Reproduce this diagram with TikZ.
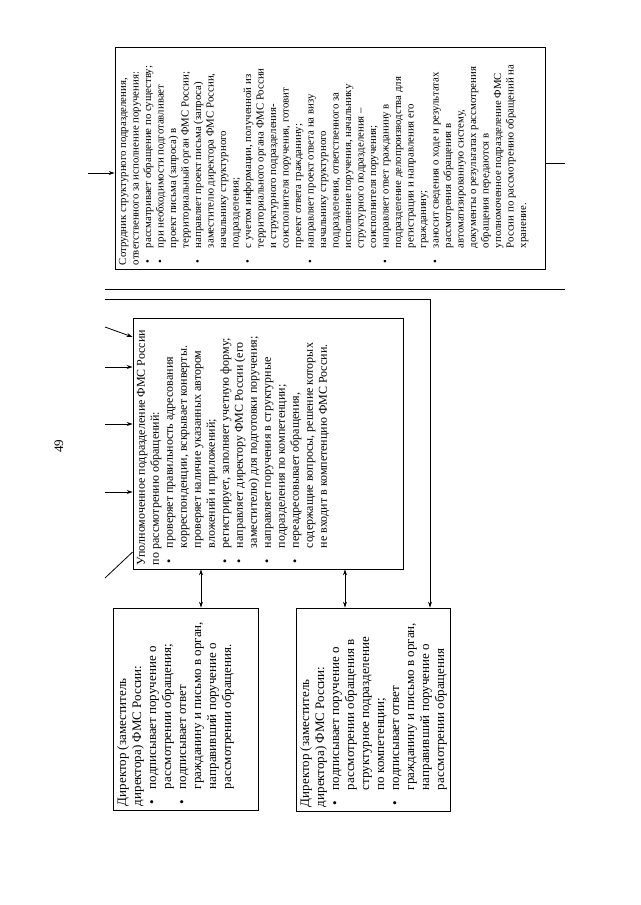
\documentclass[tikz,border=0pt]{standalone}
\usepackage{fontspec}
\setmainfont{Liberation Serif}
\usepackage{graphicx}
\usetikzlibrary{arrows.meta}

\newcommand{\bl}{\makebox[17pt][l]{\hspace{2pt}\textbullet}}
\newcommand{\cn}{\hspace*{17pt}}
\newcommand{\vtext}[4]{\rotatebox{90}{\parbox[c][#2][t]{#1}{#3\raggedright #4}}}

\tikzset{
  box/.style={draw, line width=0.8pt, inner sep=4pt},
}

\begin{document}
\begin{tikzpicture}[x=1pt, y=1pt, >={Stealth[length=6pt,width=4pt]}, line width=0.8pt]
\useasboundingbox (0,0) rectangle (640,-905);

% page number
\node[rotate=90, font=\fontsize{13}{13}\selectfont] (page) at (59,-446) {49};

% boxes
\node[box] (staff) at (330,-158) {\vtext{214pt}{422pt}{\fontsize{10.8}{12.5}\selectfont}{%
Сотрудник структурного подразделения,\\
ответственного за исполнение поручения:\\
\bl рассматривает обращение по существу;\\
\bl при необходимости подготавливает\\
\cn проект письма (запроса) в\\
\cn территориальный орган ФМС России;\\
\bl направляет проект письма (запроса)\\
\cn заместителю директора ФМС России,\\
\cn начальнику структурного\\
\cn подразделения;\\
\bl с учетом информации, полученной из\\
\cn территориального органа ФМС России\\
\cn и структурного подразделения-\\
\cn соисполнителя поручения, готовит\\
\cn проект ответа гражданину;\\
\bl направляет проект ответа на визу\\
\cn начальнику структурного\\
\cn подразделения, ответственного за\\
\cn исполнение поручения, начальнику\\
\cn структурного подразделения –\\
\cn соисполнителя поручения;\\
\bl направляет ответ гражданину в\\
\cn подразделение делопроизводства для\\
\cn регистрации и направления его\\
\cn гражданину;\\
\bl заносит сведения о ходе и результатах\\
\cn рассмотрения обращения в\\
\cn автоматизированную систему,\\
\cn документы о результатах рассмотрения\\
\cn обращения передаются в\\
\cn уполномоченное подразделение ФМС\\
\cn России по рассмотрению обращений на\\
\cn хранение.}};

\node[box] (unit) at (268,-443.5) {\vtext{243pt}{262pt}{\fontsize{12}{14}\selectfont}{%
Уполномоченное подразделение ФМС России\\
по рассмотрению обращений:\\
\bl проверяет правильность адресования\\
\cn корреспонденции, вскрывает конверты.\\
\cn проверяет наличие указанных автором\\
\cn вложений и приложений;\\
\bl регистрирует, заполняет учетную форму;\\
\bl направляет директору ФМС России (его\\
\cn заместителю) для подготовки поручения;\\
\bl направляет поручения в структурные\\
\cn подразделения по компетенции;\\
\bl переадресовывает обращения,\\
\cn содержащие вопросы, решение которых\\
\cn не входит в компетенцию ФМС России.}};

\node[box] (dirA) at (185.5,-709) {\vtext{194pt}{137pt}{\fontsize{13}{15}\selectfont}{%
Директор (заместитель\\
директора) ФМС России:\\
\bl подписывает поручение о\\
\cn рассмотрении обращения;\\
\bl подписывает ответ\\
\cn гражданину и письмо в орган,\\
\cn направивший поручение о\\
\cn рассмотрении обращения.}};

\node[box] (dirB) at (373,-709.5) {\vtext{195pt}{146pt}{\fontsize{13}{15}\selectfont}{%
Директор (заместитель\\
директора) ФМС России:\\
\bl подписывает поручение о\\
\cn рассмотрении обращения в\\
\cn структурное подразделение\\
\cn по компетенции;\\
\bl подписывает ответ\\
\cn гражданину и письмо в орган,\\
\cn направивший поручение о\\
\cn рассмотрении обращения}};

% connectors of the top box
\coordinate (sIn) at (88,-173);
\coordinate (sOut) at (565,-163);
\draw[->] (sIn) -- (sIn -| staff.west);
\draw (sOut -| staff.east) -- (sOut);

% separating lines
\coordinate (lnA) at (105,-289);
\coordinate (lnAe) at (565,-289);
\coordinate (lnB) at (105,-299);
\coordinate (lnBc) at (430,-299);
\draw (lnA) -- (lnAe);
\draw[->] (lnB) -- (lnBc) -- (lnBc |- dirB.north);

% inputs of the middle box
\coordinate (uTop) at (105,-327);
\coordinate (uBot) at (105,-578);
\draw[->] (uTop) -- (unit.west |- 0,-337);
\draw (uBot) -- (unit.west |- 0,-552);
\foreach \y [count=\i] in {367,424,492} {
  \coordinate (uIn\i) at (105,-\y);
  \draw[->] (uIn\i) -- (uIn\i -| unit.west);
}

% links to the directors
\draw[<->] (201,0 |- unit.south) -- (201,0 |- dirA.north);
\draw[<->] (345,0 |- unit.south) -- (345,0 |- dirB.north);
\end{tikzpicture}
\end{document}
